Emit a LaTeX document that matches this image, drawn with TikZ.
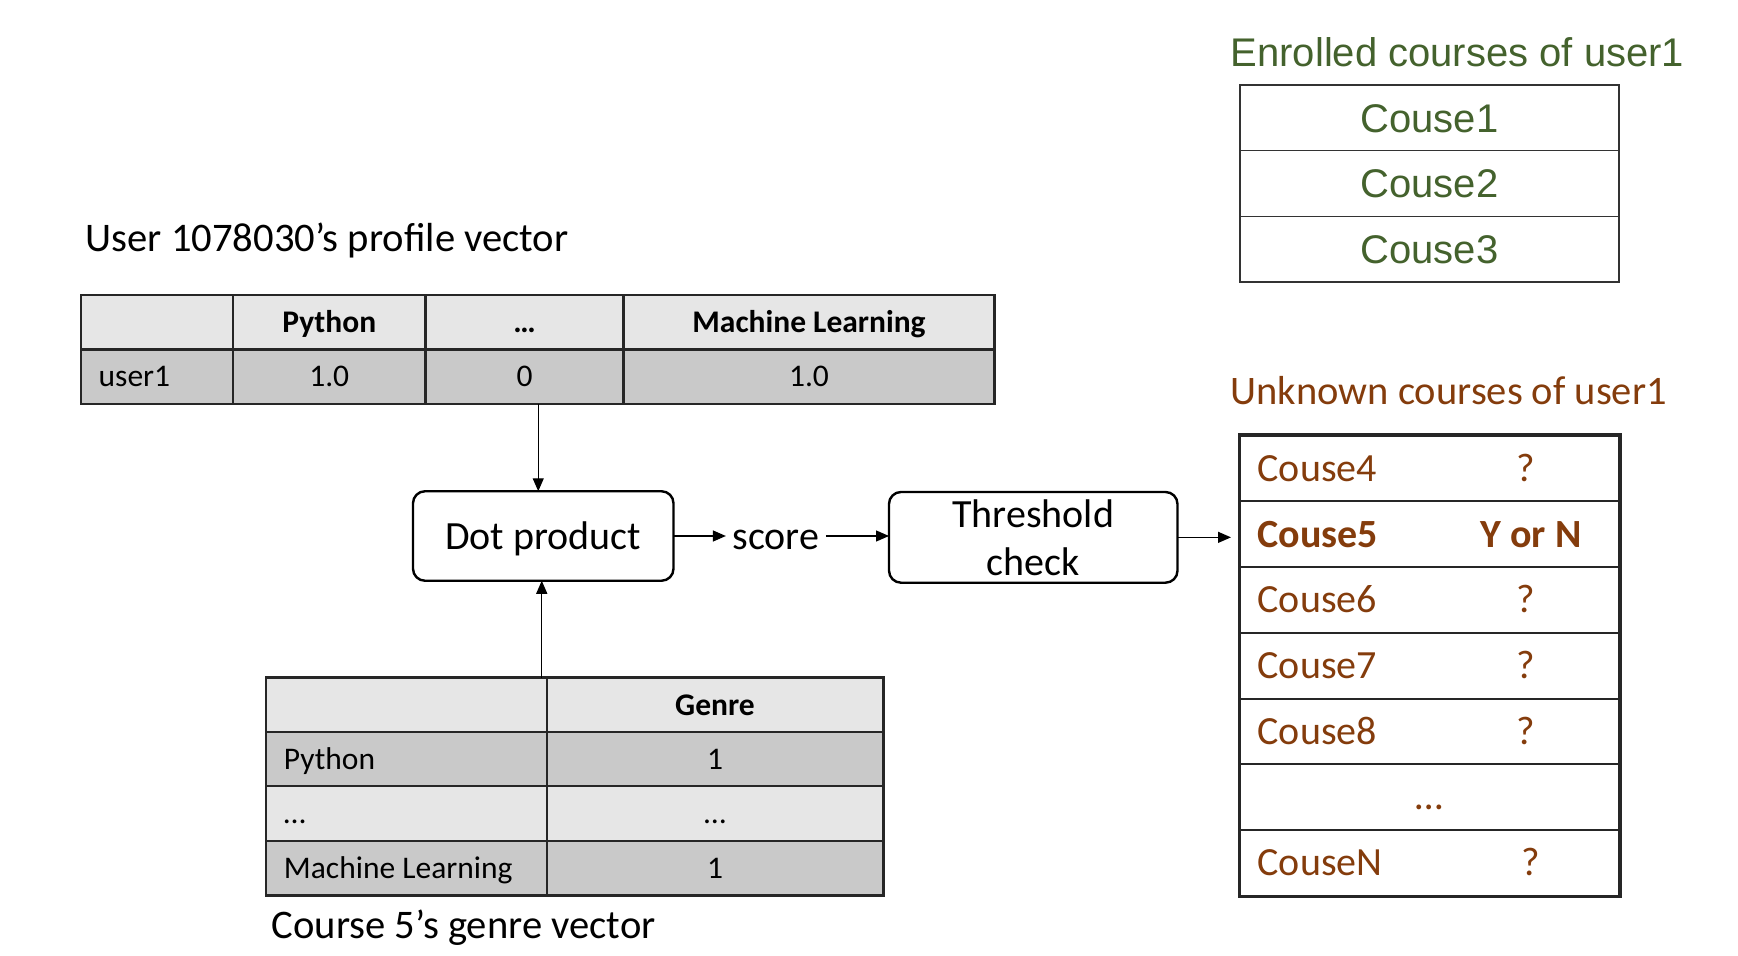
\documentclass[tikz,border=0pt]{standalone}
\usepackage{fontspec}
\setmainfont{Carlito}
\newfontfamily\arialfont{Liberation Sans}
\usetikzlibrary{arrows.meta}
\usetikzlibrary{calc}

\newcommand\tabfont{\fontsize{15.75}{19}\selectfont}
\newcommand\bigfont{\fontsize{20}{24}\selectfont}

\begin{document}
\begin{tikzpicture}[x=0.5pt,y=-0.5pt]
        \tikzset{>={Triangle[length=6.5pt,width=5.5pt]}}
        \tikzstyle{every path}=[line width=0.65pt]
        \definecolor{headgrey}{HTML}{E6E6E6}
        \definecolor{rowgrey}{HTML}{C9C9C9}
        \definecolor{enrolgreen}{HTML}{44622D}
        \definecolor{unkbrown}{HTML}{843C0C}
        \tikzstyle{cell}=[rectangle,draw=black!85,line width=1.1pt,inner sep=0pt,outer sep=0pt,minimum height=27.25pt,font=\tabfont,text height=10.15pt,text depth=0pt]
        \tikzstyle{celltext}=[inner sep=0pt,font=\tabfont,text height=10.15pt,text depth=0pt,anchor=west]
        \tikzstyle{ecell}=[rectangle,draw=black!80,line width=0.8pt,inner sep=0pt,minimum width=189.5pt,minimum height=32.83pt,font=\arialfont\bigfont,text=enrolgreen,text height=14.3pt,text depth=0pt]
        \tikzstyle{ucell}=[rectangle,draw=black!85,line width=1pt,inner sep=0pt,minimum width=189.5pt,minimum height=32.85pt]
        \tikzstyle{utext}=[inner sep=0pt,font=\bigfont,text=unkbrown,text height=12.9pt,text depth=0pt]
        \tikzstyle{procbox}=[rectangle,rounded corners=6pt,draw=black,line width=1.2pt,inner sep=0pt,outer sep=0pt,align=center,font=\bigfont]
        \tikzstyle{heading}=[inner sep=0pt,anchor=base west,font=\fontsize{20.3}{24}\selectfont]

        \useasboundingbox (0,0) rectangle (1738,956);

        % profile vector of user1
        \node [heading] (ptitle) at (85,252) {User 1078030’s profile vector};
        \foreach \x/\w/\h/\v [count=\i] in {157/76/{}/{},329.25/96.25/Python/1.0,524.5/99/…/0,809/185.5/Machine Learning/1.0} {
            \node [cell,fill=headgrey,minimum width=\w pt,font=\tabfont\bfseries] (p0\i) at (\x,322.25) {\h};
            \node [cell,fill=rowgrey,minimum width=\w pt] (p1\i) at (\x,376.75) {\v};
        }
        \node [celltext] (puser) at (98,376.75) {user1};
        \draw [line width=1.4pt,black!85] (p01.north west) rectangle (p14.south east);

        % genre vector of course 5
        \foreach \y/\v/\f [count=\i] in {705.125/{\bfseries Genre}/headgrey,759.375/1/rowgrey,813.625/…/headgrey,867.875/1/rowgrey} {
            \node [cell,fill=\f,minimum width=140.35pt] (g\i1) at (406.35,\y) {};
            \node [cell,fill=\f,minimum width=168.3pt] (g\i2) at (715,\y) {\v};
        }
        \node [celltext] (gpy) at (283.3,759.375) {Python};
        \node [celltext] (gdots) at (283.3,813.625) {…};
        \node [celltext] (gml) at (283.3,867.875) {Machine Learning};
        \draw [line width=1.4pt,black!85] (g11.north west) rectangle (g42.south east);
        \node [heading] (gtitle) at (271,938) {Course 5’s genre vector};

        % dot product and threshold
        \node [procbox,minimum width=130.25pt,minimum height=44.75pt,text height=13.1pt,text depth=0pt] (dot) at (543.25,536) {Dot product};
        \node [inner sep=0pt,inner xsep=3pt,font=\bigfont,text height=13pt,text depth=0pt] (score) at (775.85,536) {score};
        \node [procbox,minimum width=144.25pt,minimum height=45.35pt] (thresh) at (1033.25,537.35) {Threshold\\check};

        % enrolled courses
        \node [heading,font=\arialfont\bigfont,text=enrolgreen] (etitle) at (1230,67) {Enrolled courses of user1};
        \foreach \i in {1,2,3}
            \node [ecell] (e\i) at (1429.5,{85+65.67*(\i-0.5)}) {Couse\i};

        % unknown courses
        \node [heading,font=\fontsize{20.25}{24}\selectfont,text=unkbrown] (utitle) at (1230,405) {Unknown courses of user1};
        \foreach \i in {1,...,7}
            \node [ucell] (u\i) at (1429.5,{435.7+65.7*(\i-0.5)}) {};
        \foreach \c/\q/\qx [count=\i] in {Couse4/?/1526,{\bfseries Couse5}/{\bfseries Y or N}/1531,Couse6/?/1526,Couse7/?/1526,Couse8/?/1526} {
            \node [utext,anchor=west] (c\i) at (1257,{435.7+65.7*(\i-0.5)}) {\c};
            \node [utext] (q\i) at (\qx,{435.7+65.7*(\i-0.5)}) {\q};
        }
        \node [utext] (c6) at (1429.5,797) {…};
        \node [utext,anchor=west] (c7) at (1257,862.75) {CouseN};
        \node [utext] (q7) at (1531,862.75) {?};
        \draw [line width=1.5pt,black!85] (u1.north west) rectangle (u7.south east);

        % connectors
        \coordinate (dotin) at ($(dot.north)+(-5,0)$);
        \coordinate (dotout) at ($(dot.south)+(-1.5,0)$);
        \draw [->] (dotin |- p13.south) -- (dotin);
        \draw [->] (dotout |- g11.north) -- (dotout);
        \draw [->] (dot) -- (score);
        \draw [->] (score.east) -- (score.east -| thresh.west);
        \draw [->,shorten >=4pt] (thresh.east) -- (thresh.east -| u2.west);
\end{tikzpicture}
\end{document}
